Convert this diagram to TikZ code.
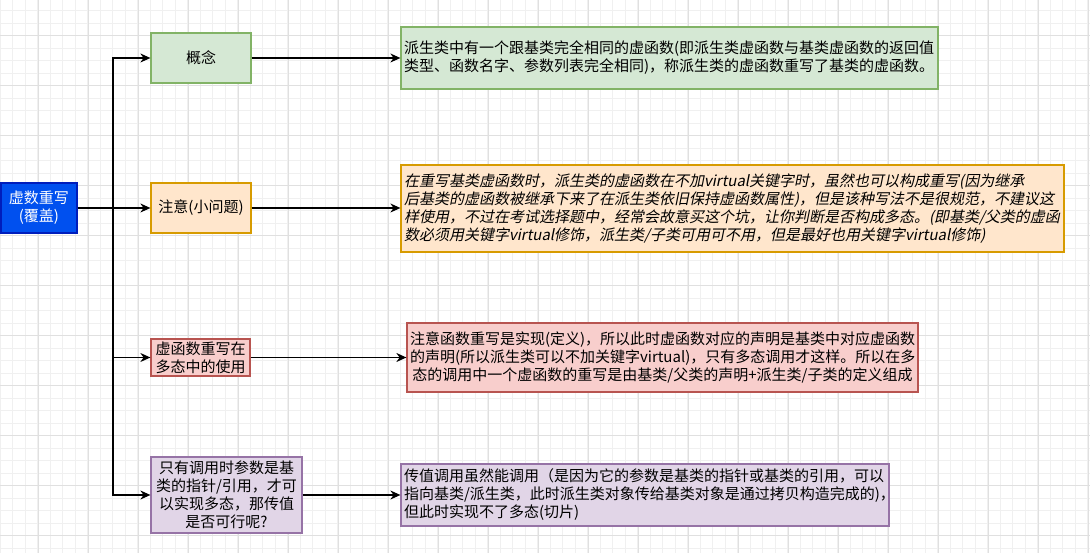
\documentclass[tikz,border=0pt]{standalone}
\usepackage{fontspec}
\setmainfont{Noto Sans CJK SC}
\newfontfamily\cjkit[FakeSlant=0.2]{Noto Sans CJK SC}
\usepackage{tikz}
\usetikzlibrary{arrows.meta,positioning}
\definecolor{rootfill}{HTML}{0050EF}
\definecolor{rootline}{HTML}{001DBC}
\definecolor{greenfill}{HTML}{D5E8D4}
\definecolor{greenline}{HTML}{82B366}
\definecolor{orangefill}{HTML}{FFE6CC}
\definecolor{orangeline}{HTML}{D79B00}
\definecolor{redfill}{HTML}{F8CECC}
\definecolor{redline}{HTML}{B85450}
\definecolor{purplefill}{HTML}{E1D5E7}
\definecolor{purpleline}{HTML}{9673A6}
\definecolor{gridminor}{HTML}{F0F0F0}
\definecolor{gridmajor}{HTML}{E0E0E0}

\begin{document}
\begin{tikzpicture}[x=1pt,y=-1pt,font=\fontsize{15}{18}\selectfont,
    box/.style={draw,line width=1.25pt,inner sep=0pt,align=center},
    info/.style={box,inner xsep=3pt,align=left},
    link/.style={-{Stealth[length=10pt,width=9pt]},line width=1.3pt}]
  % canvas and grid
  \fill[white] (0,0) rectangle (1090,553);
  \useasboundingbox (0,0) rectangle (1090,553);
  \foreach \gx in {0.2,12.7,...,1090} \draw[gridminor,line width=0.8pt] (\gx,0) -- (\gx,553);
  \foreach \gy in {10.5,23,...,553} \draw[gridminor,line width=0.8pt] (0,\gy) -- (1090,\gy);
  \foreach \gx in {38,88,...,1090} \draw[gridmajor,line width=0.8pt] (\gx,0) -- (\gx,553);
  \foreach \gy in {35.5,85.5,...,553} \draw[gridmajor,line width=0.8pt] (0,\gy) -- (1090,\gy);

  \node[box,fill=rootfill,draw=rootline,text=white,minimum width=76pt,minimum height=50pt] (root) at (39,208) {虚数重写\\(覆盖)};

  \node[box,fill=greenfill,draw=greenline,minimum width=100pt,minimum height=50pt] (concept) at (201,58) {概念};
  \node[box,fill=orangefill,draw=orangeline,minimum width=100pt,minimum height=50pt] (note) at (201,208) {注意(小问题)};
  \node[box,fill=redfill,draw=redline,minimum width=99pt,minimum height=37pt] (usage) at (200.5,357.5) {虚函数重写在\\多态中的使用};
  \node[box,fill=purplefill,draw=purpleline,minimum width=151pt,minimum height=76pt] (byval) at (226.5,495) {只有调用时参数是基\\类的指针/引用，才可\\以实现多态，那传值\\是否可行呢?};

  \node[info,fill=greenfill,draw=greenline,text width=531pt,minimum height=62pt] (conceptinfo) at (669.5,58) {派生类中有一个跟基类完全相同的虚函数(即派生类虚函数与基类虚函数的返回值\\类型、函数名字、参数列表完全相同)，称派生类的虚函数重写了基类的虚函数。};
  \node[info,fill=orangefill,draw=orangeline,text width=657pt,minimum height=87pt,font=\fontsize{15}{18}\cjkit] (noteinfo) at (732.5,208.5) {在重写基类虚函数时，派生类的虚函数在不加virtual关键字时，虽然也可以构成重写(因为继承\\后基类的虚函数被继承下来了在派生类依旧保持虚函数属性)，但是该种写法不是很规范，不建议这\\样使用，不过在考试选择题中，经常会故意买这个坑，让你判断是否构成多态。(即基类/父类的虚函\\数必须用关键字virtual修饰，派生类/子类可用可不用，但是最好也用关键字virtual修饰)};
  \node[box,fill=redfill,draw=redline,text width=505pt,inner xsep=3pt,minimum height=69pt] (usageinfo) at (662.5,357.5) {注意函数重写是实现(定义)，所以此时虚函数对应的声明是基类中对应虚函数\\的声明(所以派生类可以不加关键字virtual)，只有多态调用才这样。所以在多\\态的调用中一个虚函数的重写是由基类/父类的声明+派生类/子类的定义组成};
  \node[info,fill=purplefill,draw=purpleline,text width=482pt,minimum height=62pt] (byvalinfo) at (645,495) {传值调用虽然能调用（是因为它的参数是基类的指针或基类的引用，可以\\指向基类/派生类，此时派生类对象传给基类对象是通过拷贝构造完成的)，\\但此时实现不了多态(切片)};

  % branches from the root
  \coordinate (trunk) at (113,208);
  \draw[link] (root.east) -- (trunk) |- (concept.west);
  \draw[link] (root.east) -- (note.west);
  \draw[link] (trunk) |- (usage.west);
  \draw[link] (trunk) |- (byval.west);

  % each topic to its text
  \draw[link] (concept) -- (conceptinfo);
  \draw[link] (note) -- (note.east -| noteinfo.west);
  \draw[link] (usage) -- (usage.east -| usageinfo.west);
  \draw[link] (byval) -- (byvalinfo);
\end{tikzpicture}
\end{document}
